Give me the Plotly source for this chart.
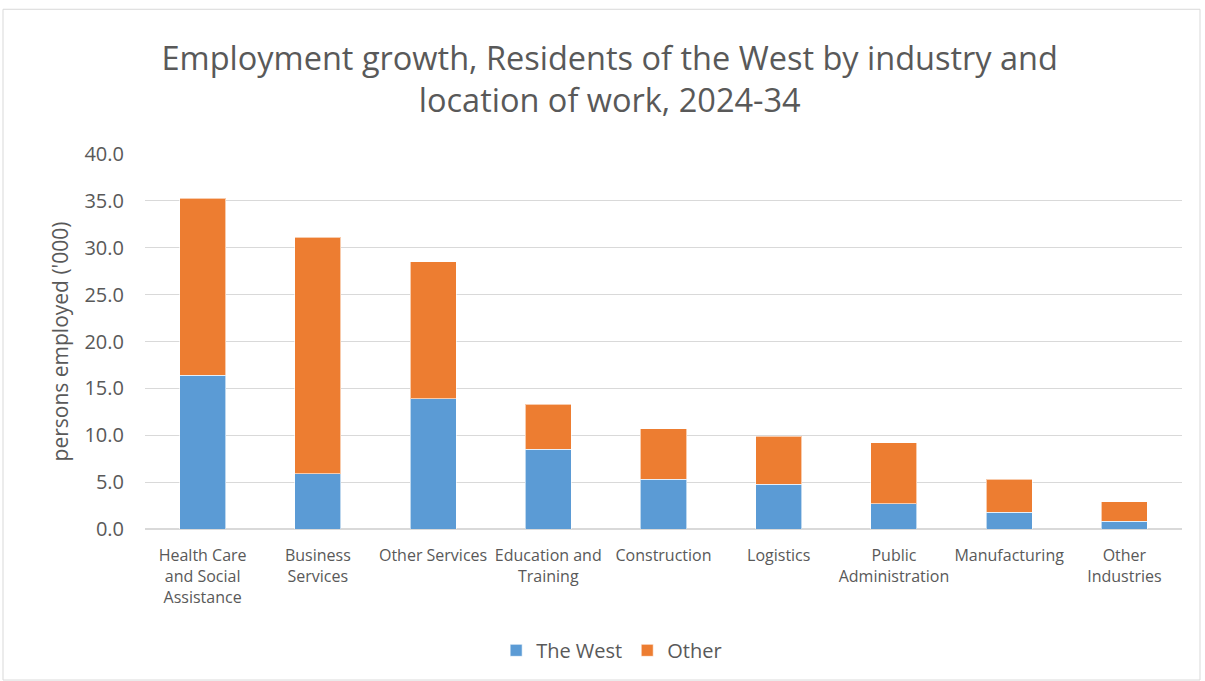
import plotly.graph_objects as go

categories = ["Health Care<br>and Social<br>Assistance", "Business<br>Services", "Other Services",
              "Education and<br>Training", "Construction", "Logistics",
              "Public<br>Administration", "Manufacturing", "Other<br>Industries"]
the_west = [16.4, 5.9, 13.9, 8.5, 5.3, 4.8, 2.7, 1.8, 0.85]
other = [18.9, 25.2, 14.6, 4.8, 5.4, 5.1, 6.5, 3.5, 2.05]
y_ticks = [0, 5, 10, 15, 20, 25, 30, 35, 40]

FONT = "Open Sans"
GREY = "#595959"

fig = go.Figure()
fig.add_trace(go.Bar(name="The West", x=categories, y=the_west,
                     marker=dict(color="#5B9BD5", line=dict(color="rgba(255,255,255,0.6)", width=1))))
fig.add_trace(go.Bar(name="Other", x=categories, y=other,
                     marker=dict(color="#ED7D31", line=dict(color="rgba(255,255,255,0.6)", width=1))))

fig.update_layout(
    barmode="stack",
    bargap=0.6,
    width=1205, height=681,
    margin=dict(l=145, r=23, t=154, b=151),
    paper_bgcolor="white", plot_bgcolor="white",
    font=dict(family=FONT, color=GREY),
    title=dict(text="Employment growth, Residents of the West by industry and<br>location of work, 2024-34",
               x=0.506, xanchor="center", y=1 - 70 / 681, yanchor="middle",
               font=dict(size=32.5, color=GREY, family=FONT)),
    legend=dict(orientation="h", x=0.45, xanchor="center", y=-0.32, yanchor="middle",
                font=dict(size=20, color=GREY), traceorder="normal"),
    yaxis=dict(range=[0, 40], tickvals=y_ticks, tickformat=".1f",
               gridcolor="#D9D9D9", gridwidth=1, zeroline=True, zerolinecolor="#D9D9D9",
               tickfont=dict(size=20, color=GREY), ticks="", ticklen=0, ticklabelstandoff=20,
               title=dict(text="persons employed ('000)", font=dict(size=21, color=GREY), standoff=10)),
    xaxis=dict(tickfont=dict(size=16, color=GREY), showline=True, linecolor="#D9D9D9",
               ticks="", tickangle=0, ticklabelstandoff=12),
    shapes=[dict(type="rect", xref="paper", yref="paper",
                 x0=-142/1037, x1=(1200-145)/1037, y0=(529.7-681)/375.7, y1=(529.7-9)/375.7,
                 line=dict(color="#D9D9D9", width=1), fillcolor="rgba(0,0,0,0)", layer="below")],
)

fig.write_html("out.html")
